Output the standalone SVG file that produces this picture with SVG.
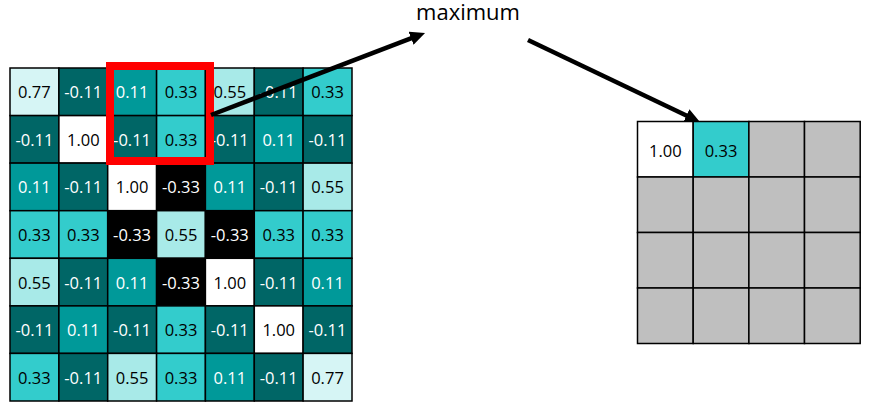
<svg xmlns="http://www.w3.org/2000/svg" width="877" height="416" viewBox="0 0 877 416">
<style>
rect.c{stroke:#000;stroke-width:1.5}
.w{fill:#FFFFFF}.k{fill:#000000}.t1{fill:#006666}.t2{fill:#009999}.t3{fill:#33CCCC}.t4{fill:#A8EAE8}.t5{fill:#D6F5F5}.g{fill:#BFBFBF}
text{font-family:"Open Sans","Liberation Sans",Arial,sans-serif;font-size:16.5px;text-anchor:middle;dominant-baseline:central}
text.lt{fill:#FFFFFF}text.dk{fill:#000000}
text.lbl{font-size:22px;dominant-baseline:auto}
.conn line{stroke:#000;stroke-width:4.5;fill:none}
</style>
<defs>
<marker id="ah" markerUnits="userSpaceOnUse" markerWidth="16" markerHeight="14" viewBox="0 0 16 14" refX="4" refY="7" orient="auto">
<path d="M0,0 L15,7 L0,14 z" fill="#000"/>
</marker>
</defs>
<rect width="877" height="416" fill="#fff"/>
<g id="input-grid">
<g id="r0c0"><rect class="c t5" x="10" y="68" width="48.9" height="47.6"/><text class="dk" x="34.4" y="91.8">0.77</text></g>
<g id="r0c1"><rect class="c t1" x="58.9" y="68" width="48.8" height="47.6"/><text class="lt" x="83.3" y="91.8">-0.11</text></g>
<g id="r0c2"><rect class="c t2" x="107.7" y="68" width="48.9" height="47.6"/><text class="lt" x="132.1" y="91.8">0.11</text></g>
<g id="r0c3"><rect class="c t3" x="156.6" y="68" width="48.8" height="47.6"/><text class="dk" x="181" y="91.8">0.33</text></g>
<g id="r0c4"><rect class="c t4" x="205.4" y="68" width="48.9" height="47.6"/><text class="dk" x="229.8" y="91.8">0.55</text></g>
<g id="r0c5"><rect class="c t1" x="254.3" y="68" width="48.8" height="47.6"/><text class="lt" x="278.7" y="91.8">-0.11</text></g>
<g id="r0c6"><rect class="c t3" x="303.1" y="68" width="48.9" height="47.6"/><text class="dk" x="327.5" y="91.8">0.33</text></g>

<g id="r1c0"><rect class="c t1" x="10" y="115.6" width="48.9" height="47.5"/><text class="lt" x="34.4" y="139.4">-0.11</text></g>
<g id="r1c1"><rect class="c w" x="58.9" y="115.6" width="48.8" height="47.5"/><text class="dk" x="83.3" y="139.4">1.00</text></g>
<g id="r1c2"><rect class="c t1" x="107.7" y="115.6" width="48.9" height="47.5"/><text class="lt" x="132.1" y="139.4">-0.11</text></g>
<g id="r1c3"><rect class="c t3" x="156.6" y="115.6" width="48.8" height="47.5"/><text class="dk" x="181" y="139.4">0.33</text></g>
<g id="r1c4"><rect class="c t1" x="205.4" y="115.6" width="48.9" height="47.5"/><text class="lt" x="229.8" y="139.4">-0.11</text></g>
<g id="r1c5"><rect class="c t2" x="254.3" y="115.6" width="48.8" height="47.5"/><text class="lt" x="278.7" y="139.4">0.11</text></g>
<g id="r1c6"><rect class="c t1" x="303.1" y="115.6" width="48.9" height="47.5"/><text class="lt" x="327.5" y="139.4">-0.11</text></g>

<g id="r2c0"><rect class="c t2" x="10" y="163.1" width="48.9" height="47.6"/><text class="lt" x="34.4" y="186.9">0.11</text></g>
<g id="r2c1"><rect class="c t1" x="58.9" y="163.1" width="48.8" height="47.6"/><text class="lt" x="83.3" y="186.9">-0.11</text></g>
<g id="r2c2"><rect class="c w" x="107.7" y="163.1" width="48.9" height="47.6"/><text class="dk" x="132.1" y="186.9">1.00</text></g>
<g id="r2c3"><rect class="c k" x="156.6" y="163.1" width="48.8" height="47.6"/><text class="lt" x="181" y="186.9">-0.33</text></g>
<g id="r2c4"><rect class="c t2" x="205.4" y="163.1" width="48.9" height="47.6"/><text class="lt" x="229.8" y="186.9">0.11</text></g>
<g id="r2c5"><rect class="c t1" x="254.3" y="163.1" width="48.8" height="47.6"/><text class="lt" x="278.7" y="186.9">-0.11</text></g>
<g id="r2c6"><rect class="c t4" x="303.1" y="163.1" width="48.9" height="47.6"/><text class="dk" x="327.5" y="186.9">0.55</text></g>

<g id="r3c0"><rect class="c t3" x="10" y="210.7" width="48.9" height="47.6"/><text class="dk" x="34.4" y="234.5">0.33</text></g>
<g id="r3c1"><rect class="c t3" x="58.9" y="210.7" width="48.8" height="47.6"/><text class="dk" x="83.3" y="234.5">0.33</text></g>
<g id="r3c2"><rect class="c k" x="107.7" y="210.7" width="48.9" height="47.6"/><text class="lt" x="132.1" y="234.5">-0.33</text></g>
<g id="r3c3"><rect class="c t4" x="156.6" y="210.7" width="48.8" height="47.6"/><text class="dk" x="181" y="234.5">0.55</text></g>
<g id="r3c4"><rect class="c k" x="205.4" y="210.7" width="48.9" height="47.6"/><text class="lt" x="229.8" y="234.5">-0.33</text></g>
<g id="r3c5"><rect class="c t3" x="254.3" y="210.7" width="48.8" height="47.6"/><text class="dk" x="278.7" y="234.5">0.33</text></g>
<g id="r3c6"><rect class="c t3" x="303.1" y="210.7" width="48.9" height="47.6"/><text class="dk" x="327.5" y="234.5">0.33</text></g>

<g id="r4c0"><rect class="c t4" x="10" y="258.3" width="48.9" height="47.6"/><text class="dk" x="34.4" y="282.1">0.55</text></g>
<g id="r4c1"><rect class="c t1" x="58.9" y="258.3" width="48.8" height="47.6"/><text class="lt" x="83.3" y="282.1">-0.11</text></g>
<g id="r4c2"><rect class="c t2" x="107.7" y="258.3" width="48.9" height="47.6"/><text class="lt" x="132.1" y="282.1">0.11</text></g>
<g id="r4c3"><rect class="c k" x="156.6" y="258.3" width="48.8" height="47.6"/><text class="lt" x="181" y="282.1">-0.33</text></g>
<g id="r4c4"><rect class="c w" x="205.4" y="258.3" width="48.9" height="47.6"/><text class="dk" x="229.8" y="282.1">1.00</text></g>
<g id="r4c5"><rect class="c t1" x="254.3" y="258.3" width="48.8" height="47.6"/><text class="lt" x="278.7" y="282.1">-0.11</text></g>
<g id="r4c6"><rect class="c t2" x="303.1" y="258.3" width="48.9" height="47.6"/><text class="lt" x="327.5" y="282.1">0.11</text></g>

<g id="r5c0"><rect class="c t1" x="10" y="305.9" width="48.9" height="47.5"/><text class="lt" x="34.4" y="329.7">-0.11</text></g>
<g id="r5c1"><rect class="c t2" x="58.9" y="305.9" width="48.8" height="47.5"/><text class="lt" x="83.3" y="329.7">0.11</text></g>
<g id="r5c2"><rect class="c t1" x="107.7" y="305.9" width="48.9" height="47.5"/><text class="lt" x="132.1" y="329.7">-0.11</text></g>
<g id="r5c3"><rect class="c t3" x="156.6" y="305.9" width="48.8" height="47.5"/><text class="dk" x="181" y="329.7">0.33</text></g>
<g id="r5c4"><rect class="c t1" x="205.4" y="305.9" width="48.9" height="47.5"/><text class="lt" x="229.8" y="329.7">-0.11</text></g>
<g id="r5c5"><rect class="c w" x="254.3" y="305.9" width="48.8" height="47.5"/><text class="dk" x="278.7" y="329.7">1.00</text></g>
<g id="r5c6"><rect class="c t1" x="303.1" y="305.9" width="48.9" height="47.5"/><text class="lt" x="327.5" y="329.7">-0.11</text></g>

<g id="r6c0"><rect class="c t3" x="10" y="353.4" width="48.9" height="47.6"/><text class="dk" x="34.4" y="377.2">0.33</text></g>
<g id="r6c1"><rect class="c t1" x="58.9" y="353.4" width="48.8" height="47.6"/><text class="lt" x="83.3" y="377.2">-0.11</text></g>
<g id="r6c2"><rect class="c t4" x="107.7" y="353.4" width="48.9" height="47.6"/><text class="dk" x="132.1" y="377.2">0.55</text></g>
<g id="r6c3"><rect class="c t3" x="156.6" y="353.4" width="48.8" height="47.6"/><text class="dk" x="181" y="377.2">0.33</text></g>
<g id="r6c4"><rect class="c t2" x="205.4" y="353.4" width="48.9" height="47.6"/><text class="lt" x="229.8" y="377.2">0.11</text></g>
<g id="r6c5"><rect class="c t1" x="254.3" y="353.4" width="48.8" height="47.6"/><text class="lt" x="278.7" y="377.2">-0.11</text></g>
<g id="r6c6"><rect class="c t5" x="303.1" y="353.4" width="48.9" height="47.6"/><text class="dk" x="327.5" y="377.2">0.77</text></g>
</g>
<g id="window">
<rect x="110" y="66" width="100" height="95" fill="none" stroke="#FF0000" stroke-width="8"/>
</g>
<g id="output-grid">
<g id="o00"><rect class="c w" x="637.5" y="121.5" width="55.7" height="55.5"/><text class="dk" x="665.3" y="150">1.00</text></g>
<g id="o01"><rect class="c t3" x="693.2" y="121.5" width="55.7" height="55.5"/><text class="dk" x="721" y="150">0.33</text></g>
<g id="o02"><rect class="c g" x="748.9" y="121.5" width="55.6" height="55.5"/></g>
<g id="o03"><rect class="c g" x="804.5" y="121.5" width="55.7" height="55.5"/></g>
<g id="o10"><rect class="c g" x="637.5" y="177" width="55.7" height="55.5"/></g>
<g id="o11"><rect class="c g" x="693.2" y="177" width="55.7" height="55.5"/></g>
<g id="o12"><rect class="c g" x="748.9" y="177" width="55.6" height="55.5"/></g>
<g id="o13"><rect class="c g" x="804.5" y="177" width="55.7" height="55.5"/></g>
<g id="o20"><rect class="c g" x="637.5" y="232.5" width="55.7" height="55.5"/></g>
<g id="o21"><rect class="c g" x="693.2" y="232.5" width="55.7" height="55.5"/></g>
<g id="o22"><rect class="c g" x="748.9" y="232.5" width="55.6" height="55.5"/></g>
<g id="o23"><rect class="c g" x="804.5" y="232.5" width="55.7" height="55.5"/></g>
<g id="o30"><rect class="c g" x="637.5" y="288" width="55.7" height="55.5"/></g>
<g id="o31"><rect class="c g" x="693.2" y="288" width="55.7" height="55.5"/></g>
<g id="o32"><rect class="c g" x="748.9" y="288" width="55.6" height="55.5"/></g>
<g id="o33"><rect class="c g" x="804.5" y="288" width="55.7" height="55.5"/></g>
</g>
<g id="label">
<text x="468" y="20" class="dk lbl">maximum</text>
</g>
<g class="conn" id="connectors">
<line x1="211" y1="115" x2="414.8" y2="36.9" marker-end="url(#ah)"/>
<line x1="528" y1="40" x2="690" y2="117.3" marker-end="url(#ah)"/>
</g>
</svg>
